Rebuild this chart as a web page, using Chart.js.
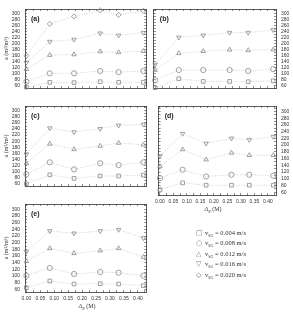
<!DOCTYPE html>
<html>
<head>
<meta charset="utf-8">
<script src="https://cdn.jsdelivr.net/npm/chart.js@4.4.0/dist/chart.umd.min.js"></script>
<style>
  html, body { margin: 0; padding: 0; background: #fff; }
  #wrap { position: relative; width: 293px; height: 312px; overflow: hidden; }
  #wrap canvas { position: absolute; }
  .xtitle { position: absolute; font: 6px "Liberation Serif"; color: #333; white-space: nowrap; transform: translateX(-50%); }
  .xtitle i sub { font-size: 4px; }
  #legend { position: absolute; left: 196px; top: 228px; font: 6.5px "Liberation Serif"; color: #333; }
  #legend .row { height: 10.4px; line-height: 10.4px; white-space: nowrap; }
  #legend .sym { display: inline-block; width: 9px; font: 7px "DejaVu Sans"; color: #777; }
  #legend sub { font-size: 4px; }
</style>
</head>
<body>
<div id="wrap">
  <canvas id="pa"></canvas>
  <canvas id="pb"></canvas>
  <canvas id="pc"></canvas>
  <canvas id="pd"></canvas>
  <canvas id="pe"></canvas>
  <div class="xtitle" style="left:213px; top:206px;"><i>&Delta;<sub>N</sub></i> (M)</div>
  <div class="xtitle" style="left:87px; top:303px;"><i>&Delta;<sub>N</sub></i> (M)</div>
  <div id="legend"></div>
</div>
<script>
// x positions (molarity) shared by every panel
const dn = [0, 0.084, 0.171, 0.265, 0.331, 0.42];
const vsg = ['0.004', '0.008', '0.012', '0.016', '0.020'];
const symbols = ['\u25A1', '\u25CB', '\u25B3', '\u25BD', '\u25C7'];

// panel (a)
const a_v004 = [55, 71, 70, 73, 71, 71];
const a_v008 = [73, 101, 101, 109, 105, 109];
const a_v012 = [115, 162, 164, 174, 171, 175];
const a_v016 = [137, 207, 214, 235, 228, 237];
const a_v020 = [160, 266, 291, 312, 296, 310];
// panel (b)
const b_v004 = [53, 83, 74, 74, 73, 76];
const b_v008 = [78, 112, 112, 112, 109, 115];
const b_v012 = [112, 168, 175, 180, 178, 180];
const b_v016 = [130, 221, 228, 237, 237, 246];
// panel (c)
const c_v004 = [59, 89, 77, 85, 85, 88];
const c_v008 = [91, 130, 107, 127, 121, 130];
const c_v012 = [127, 191, 173, 184, 194, 188];
const c_v016 = [157, 243, 230, 241, 252, 255];
// panel (d)
const d_v004 = [68, 88, 81, 81, 81, 81];
const d_v008 = [102, 127, 107, 112, 112, 109];
const d_v012 = [137, 187, 157, 177, 170, 170];
const d_v016 = [168, 234, 205, 220, 216, 225];
// panel (e)
const e_v004 = [65, 85, 76, 77, 76, 71];
const e_v008 = [101, 124, 106, 112, 110, 101];
const e_v012 = [144, 183, 168, 176, 183, 157];
const e_v016 = [173, 235, 228, 235, 239, 214];

// tick marks (minor) and which get labels
const yTicks = [60, 70, 80, 90, 100, 110, 120, 130, 140, 150, 160, 170, 180, 190, 200, 210, 220, 230, 240, 250, 260, 270, 280, 290, 300, 310];
const yLabels = [60, 80, 100, 120, 140, 160, 180, 200, 220, 240, 260, 280, 300];
const xTicks = [0, 0.025, 0.05, 0.075, 0.1, 0.125, 0.15, 0.175, 0.2, 0.225, 0.25, 0.275, 0.3, 0.325, 0.35, 0.375, 0.4, 0.425];
const xLabels = ['0.00', '0.05', '0.10', '0.15', '0.20', '0.25', '0.30', '0.35', '0.40'];

const Y_MIN = 52, Y_MAX = 316, X_MIN = -0.005, X_MAX = 0.43;

const markers = ['rect', 'circle', 'triangle', 'triangle', 'rectRot'];
const rotations = [0, 0, 0, 180, 0];

const panels = [
  { id: 'pa', tag: '(a)', side: 'left',  xLab: false, top: 0,   h: 97, series: [a_v004, a_v008, a_v012, a_v016, a_v020] },
  { id: 'pb', tag: '(b)', side: 'right', xLab: false, top: 0,   h: 97, series: [b_v004, b_v008, b_v012, b_v016] },
  { id: 'pc', tag: '(c)', side: 'left',  xLab: false, top: 97,  h: 98, series: [c_v004, c_v008, c_v012, c_v016] },
  { id: 'pd', tag: '(d)', side: 'right', xLab: true,  top: 97,  h: 98, series: [d_v004, d_v008, d_v012, d_v016] },
  { id: 'pe', tag: '(e)', side: 'left',  xLab: true,  top: 195, h: 97, series: [e_v004, e_v008, e_v012, e_v016] }
];

const tagPlugin = {
  id: 'panelTag',
  afterDraw(chart, args, opts) {
    const { ctx, chartArea } = chart;
    ctx.save();
    ctx.font = 'bold 7px "Liberation Sans"';
    ctx.fillStyle = '#222';
    ctx.textBaseline = 'middle';
    ctx.fillText(opts.text, chartArea.left + 6, chartArea.top + 10);
    ctx.restore();
  }
};

function dataset(values, i) {
  return {
    label: 'v_SG = ' + vsg[i] + ' m/s',
    data: values.map((v, j) => ({ x: dn[j], y: v })),
    borderColor: '#c4c4c4',
    borderWidth: 0.8,
    borderDash: [1, 1.5],
    pointStyle: markers[i],
    pointRotation: rotations[i],
    pointRadius: 2.6,
    pointBorderColor: '#8a8a8a',
    pointBackgroundColor: 'rgba(255,255,255,0)',
    pointBorderWidth: 0.8,
    tension: 0,
    clip: false
  };
}

const tickFont = { family: 'Liberation Sans', size: 5 };
const gridOpts = { drawOnChartArea: false, drawTicks: true, tickLength: -2, color: '#444', lineWidth: 0.6 };
const borderOpts = { display: true, color: '#333', width: 0.8 };

function yAxis(pos, showLabels, width, withTitle) {
  return {
    type: 'linear', position: pos, min: Y_MIN, max: Y_MAX,
    afterBuildTicks: s => { s.ticks = yTicks.map(v => ({ value: v })); },
    afterFit: s => { s.width = width; },
    grid: gridOpts, border: borderOpts,
    ticks: {
      display: showLabels, autoSkip: false, padding: 7, font: tickFont, color: '#333',
      callback: v => yLabels.includes(v) ? String(v) : ''
    },
    title: {
      display: withTitle, text: 'a (m\u00B2/m\u00B3)', color: '#333',
      font: { family: 'Liberation Serif', size: 6 }, padding: { top: 1.5, bottom: 0 }
    }
  };
}

function xAxis(pos, showLabels, height) {
  return {
    type: 'linear', position: pos, min: X_MIN, max: X_MAX,
    afterBuildTicks: s => { s.ticks = xTicks.map(v => ({ value: v })); },
    afterFit: s => { s.height = height; },
    grid: gridOpts, border: borderOpts,
    ticks: {
      display: showLabels, autoSkip: false, maxRotation: 0, padding: 6, font: tickFont, color: '#333',
      callback: v => {
        const k = Math.round(v * 20);
        return Math.abs(v * 20 - k) < 1e-6 ? xLabels[k] : '';
      }
    }
  };
}

panels.forEach(p => {
  const cv = document.getElementById(p.id);
  const left = p.side === 'left';
  const yW = left ? 24 : 0;
  const y2W = left ? 0 : 17;
  const plotW = left ? 125 : 126;
  const xH = p.xLab ? 18 : 0;
  cv.width = 1 + yW + plotW + y2W + 1;
  cv.height = 1 + p.h + xH + 1;
  cv.style.left = (left ? 0 : 149) + 'px';
  cv.style.top = (p.top - 1) + 'px';

  new Chart(cv, {
    type: 'line',
    data: { datasets: p.series.map((s, i) => dataset(s, i)) },
    options: {
      responsive: false,
      animation: false,
      devicePixelRatio: 1,
      layout: { padding: 1 },
      scales: {
        x: xAxis('bottom', p.xLab, xH),
        x2: xAxis('top', false, 0),
        y: yAxis('left', left, yW, left),
        y2: yAxis('right', !left, y2W, false)
      },
      plugins: {
        legend: { display: false },
        tooltip: { enabled: false },
        panelTag: { text: p.tag }
      }
    },
    plugins: [tagPlugin]
  });
});

// legend below panel (d)
const legend = document.getElementById('legend');
vsg.forEach((v, i) => {
  const row = document.createElement('div');
  row.className = 'row';
  row.innerHTML = '<span class="sym">' + symbols[i] + '</span>v<sub>SG</sub> = ' + v + ' m/s';
  legend.appendChild(row);
});
</script>
</body>
</html>
